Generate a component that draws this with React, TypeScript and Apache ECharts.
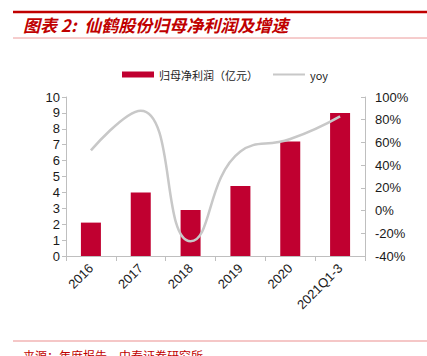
import React, { useEffect, useRef } from "react";
import * as echarts from "echarts";

const categories = ["2016", "2017", "2018", "2019", "2020", "2021Q1-3"];
const profit = [2.1, 4.0, 2.9, 4.4, 7.2, 9.0];
const yoy = [53, 88, -27, 52, 63, 83];
const titleText = "图表 2:  仙鹤股份归母净利润及增速";
const sourceText = "来源：年度报告，中泰证券研究所";
const profitName = "归母净利润（亿元）";
const yoyName = "yoy";

export default function App() {
  const ref = useRef<HTMLDivElement>(null);
  useEffect(() => {
    if (!ref.current) return;
    const chart = echarts.init(ref.current, null, { renderer: "svg" });
    const axisFont = { fontFamily: "Liberation Sans, Arial, sans-serif", fontSize: 13, color: "#1a1a1a" };
    chart.setOption({
      animation: false,
      backgroundColor: "#ffffff",
      grid: { left: 66, right: 62, top: 97, bottom: 100 },
      legend: {
        left: 117,
        top: 64,
        itemWidth: 32,
        itemHeight: 6,
        itemGap: 14,
        textStyle: { fontFamily: "Noto Sans CJK SC", fontSize: 11, color: "#222" },
        data: [
          { name: profitName, icon: "rect" },
          { name: yoyName, itemStyle: { opacity: 0 } },
        ],
      },
      xAxis: {
        type: "category",
        data: categories,
        axisLine: { lineStyle: { color: "#bfbfbf" } },
        axisTick: { show: true, length: 5, lineStyle: { color: "#bfbfbf" } },
        axisLabel: { ...axisFont, rotate: 45, margin: 10 },
      },
      yAxis: [
        {
          type: "value",
          min: 0,
          max: 10,
          interval: 1,
          splitLine: { show: false },
          axisLine: { show: true, lineStyle: { color: "#bfbfbf" } },
          axisTick: { show: true, length: 4, lineStyle: { color: "#bfbfbf" } },
          axisLabel: { ...axisFont, margin: 6 },
        },
        {
          type: "value",
          min: -40,
          max: 100,
          interval: 20,
          position: "right",
          splitLine: { show: false },
          axisLine: { show: true, lineStyle: { color: "#bfbfbf" } },
          axisTick: { show: true, inside: true, length: 4, lineStyle: { color: "#bfbfbf" } },
          axisLabel: { ...axisFont, margin: 10, formatter: "{value}%" },
        },
      ],
      series: [
        {
          name: profitName,
          type: "bar",
          data: profit,
          barWidth: 20,
          itemStyle: { color: "#C00030" },
          yAxisIndex: 0,
        },
        {
          name: yoyName,
          type: "line",
          data: yoy,
          yAxisIndex: 1,
          smooth: 0.5,
          symbol: "none",
          lineStyle: { color: "#c8c8c8", width: 2.5 },
          itemStyle: { color: "#c8c8c8" },
        },
      ],
      graphic: [
        { type: "line", shape: { x1: 13, y1: 12, x2: 427, y2: 12 }, style: { stroke: "#C00000", lineWidth: 2.5 } },
        {
          type: "text",
          x: 23,
          y: 24,
          style: {
            text: titleText,
            fill: "#C00000",
            font: "italic bold 17px 'Noto Sans CJK SC'",
            textVerticalAlign: "middle",
          },
        },
        { type: "line", shape: { x1: 13, y1: 38, x2: 427, y2: 38 }, style: { stroke: "#ec9a9a", lineWidth: 1 } },
        { type: "line", shape: { x1: 13, y1: 341, x2: 427, y2: 341 }, style: { stroke: "#f2b4b4", lineWidth: 1.5 } },
        {
          type: "text",
          x: 23,
          y: 355,
          style: {
            text: sourceText,
            fill: "#C00000",
            font: "12px 'Noto Sans CJK SC'",
            textVerticalAlign: "middle",
          },
        },
      ],
    });
    return () => chart.dispose();
  }, []);
  return <div ref={ref} style={{ position: "fixed", left: 0, top: 0, width: 427, height: 356 }} />;
}
